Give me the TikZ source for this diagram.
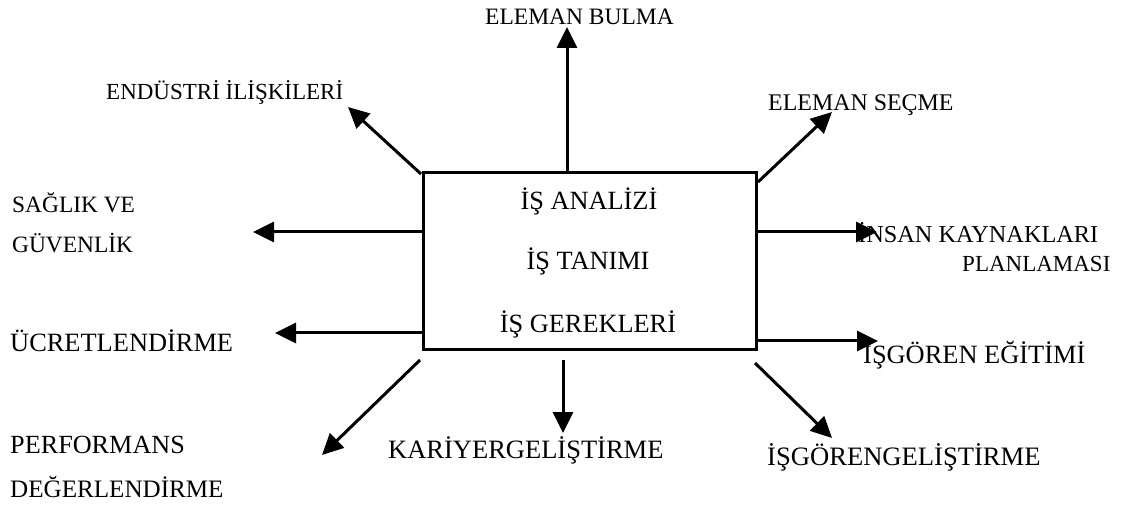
\documentclass[tikz,border=0pt]{standalone}
\usepackage{fontspec}
\setmainfont{Liberation Serif}
\usetikzlibrary{arrows.meta}
\begin{document}
\begin{tikzpicture}[x=1pt,y=-1pt,
  lab/.style={anchor=base west, inner sep=0pt, font=\fontsize{#1}{#1}\selectfont},
  mid/.style={anchor=base, inner sep=0pt, font=\fontsize{26.3}{30}\selectfont},
  arr/.style={line width=3pt, -{Triangle[length=21pt,width=20pt]}},
  boxst/.style={draw, line width=3pt, minimum width=333pt, minimum height=177pt, inner sep=0pt}]
\useasboundingbox (0,0) rectangle (1127,510);

% central box
\node[boxst] (box) at (589.5,261.5) {};
\node[mid] (t1) at (589,210) {İŞ ANALİZİ};
\node[mid] (t2) at (588,270) {İŞ TANIMI};
\node[mid] (t3) at (588,333) {İŞ GEREKLERİ};

% labels
\node[lab=23.5] (bulma) at (485,25) {ELEMAN BULMA};
\node[lab=23.0] (endustri) at (106,100) {ENDÜSTRİ İLİŞKİLERİ};
\node[lab=23.9] (secme) at (768,111) {ELEMAN SEÇME};
\node[lab=24.3] (insan) at (858,243) {İNSAN KAYNAKLARI};
\node[lab=23.0] (plan) at (962,272) {PLANLAMASI};
\node[lab=23.4] (saglik) at (12,213) {SAĞLIK VE};
\node[lab=23.4] (guven) at (12,253) {GÜVENLİK};
\node[lab=26.4] (ucret) at (10,352) {ÜCRETLENDİRME};
\node[lab=26.2] (perf) at (10,453) {PERFORMANS};
\node[lab=25.1] (deger) at (10,497) {DEĞERLENDİRME};
\node[lab=26.5] (kariyer) at (388,458) {KARİYERGELİŞTİRME};
\node[lab=26.6] (gelis) at (767,465) {İŞGÖRENGELİŞTİRME};
\node[lab=26.4] (egitim) at (863,363) {İŞGÖREN EĞİTİMİ};

% arrow tips and free starts
\coordinate (pBulma) at (567,27);
\coordinate (pEnd) at (348,107);
\coordinate (sEnd) at (421,174);
\coordinate (pSec) at (832,112);
\coordinate (sSec) at (758,182);
\coordinate (pIns) at (877,232);
\coordinate (pEgi) at (878,341);
\coordinate (pGel) at (832,438);
\coordinate (sGel) at (755,363);
\coordinate (pKar) at (563,433);
\coordinate (sKar) at (563,360);
\coordinate (pPer) at (322,455);
\coordinate (sPer) at (420,360);
\coordinate (pUcr) at (275,333);
\coordinate (pSag) at (253,232);

\draw[arr] (box.north -| pBulma) -- (pBulma);
\draw[arr] (sEnd) -- (pEnd);
\draw[arr] (sSec) -- (pSec);
\draw[arr] (box.east |- pIns) -- (pIns);
\draw[arr] (box.east |- pEgi) -- (pEgi);
\draw[arr] (sGel) -- (pGel);
\draw[arr] (sKar) -- (pKar);
\draw[arr] (sPer) -- (pPer);
\draw[arr] (box.west |- pUcr) -- (pUcr);
\draw[arr] (box.west |- pSag) -- (pSag);
\end{tikzpicture}
\end{document}
